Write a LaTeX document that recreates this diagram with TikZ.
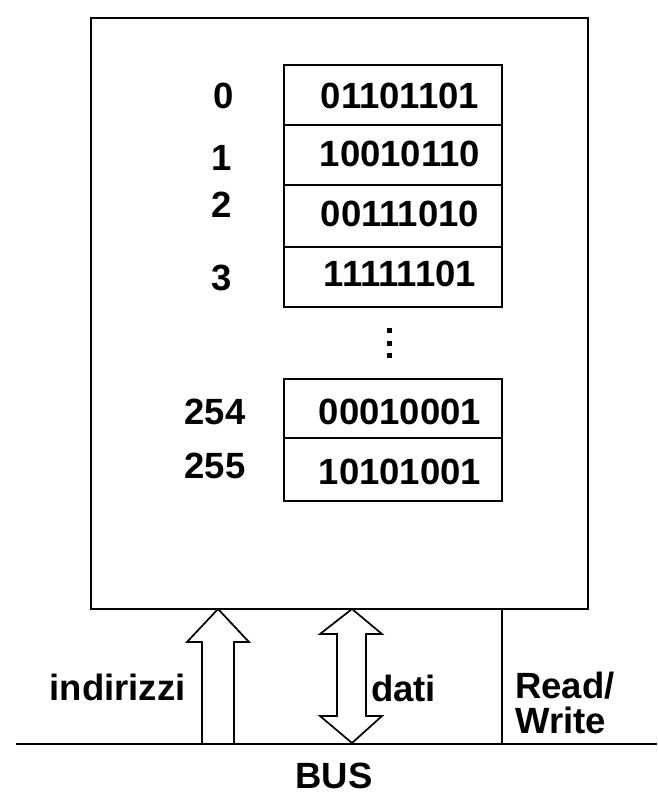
\documentclass[tikz,border=0pt]{standalone}
\usepackage{fontspec}
\setmainfont{Liberation Sans}
\begin{document}
\begin{tikzpicture}[x=1pt,y=-1pt,
  txt/.style={font=\fontsize{36.5}{42}\selectfont\bfseries, inner sep=0pt},
  cell/.style={draw, line width=2.2pt, minimum width=218pt, minimum height=60pt, inner sep=0pt},
  frame/.style={line width=2.4pt},
  fatarrow/.style={line width=1.7pt, line join=miter}]
\useasboundingbox (0,0) rectangle (657,805);
% memory box
\node[draw, frame, minimum width=497pt, minimum height=591pt, inner sep=0pt, anchor=north west] (mem) at (90,17) {};
% cells
\node[cell] (c0) at (393,95) {};
\node[cell] (c1) at (393,155) {};
\node[cell, minimum height=62pt] (c2) at (393,216) {};
\node[cell] (c3) at (393,277) {};
\node[cell, minimum height=59pt] (c254) at (393,408.5) {};
\node[cell, minimum height=63pt] (c255) at (393,469.5) {};
\node[txt] (v0) at (400,96) {01101101};
\node[txt] (v1) at (400,154) {10010110};
\node[txt] (v2) at (400,214) {00111010};
\node[txt] (v3) at (400,274) {11111101};
\node[txt] (v254) at (400,412) {00010001};
\node[txt] (v255) at (400,472) {10101001};
% addresses
\node[txt] (a0) at (224,96) {0};
\node[txt] (a1) at (222,158) {1};
\node[txt] (a2) at (222,205) {2};
\node[txt] (a3) at (222,278) {3};
\node[txt] (a254) at (215,412) {254};
\node[txt] (a255) at (215,466) {255};
% dots
\foreach \yy in {330.5,343.5,355.5}
  \fill (386.5,\yy-2.5) rectangle (391.5,\yy+2.5);
% bus
\coordinate (busL) at (16,744);
\coordinate (busR) at (657,744);
\draw[line width=2.8pt] (busL) -- (busR);
% read/write line
\coordinate (rwTop) at (502,608);
\coordinate (rwBot) at (502,744);
\draw[line width=1.7pt] (rwTop) -- (rwBot);
% address arrow (one way, up)
\draw[fatarrow] (202,743) -- (202,642) -- (187,642) -- (218,609) -- (249,642) -- (234,642) -- (234,743);
% data arrow (two way)
\draw[fatarrow] (352,609) -- (382,634) -- (366,634) -- (366,716) -- (382,716) -- (352,743)
  -- (320,716) -- (337,716) -- (337,634) -- (320,634) -- cycle;
% labels
\node[txt, anchor=base] (lind) at (117.5,700) {indirizzi};
\node[txt, anchor=base west] (ldati) at (371,701) {dati};
\node[txt, anchor=base west] (lread) at (515,698) {Read/};
\node[txt, anchor=base west] (lwrite) at (515,733) {Write};
\node[txt, anchor=base] (lbus) at (334,788) {BUS};
\end{tikzpicture}
\end{document}
